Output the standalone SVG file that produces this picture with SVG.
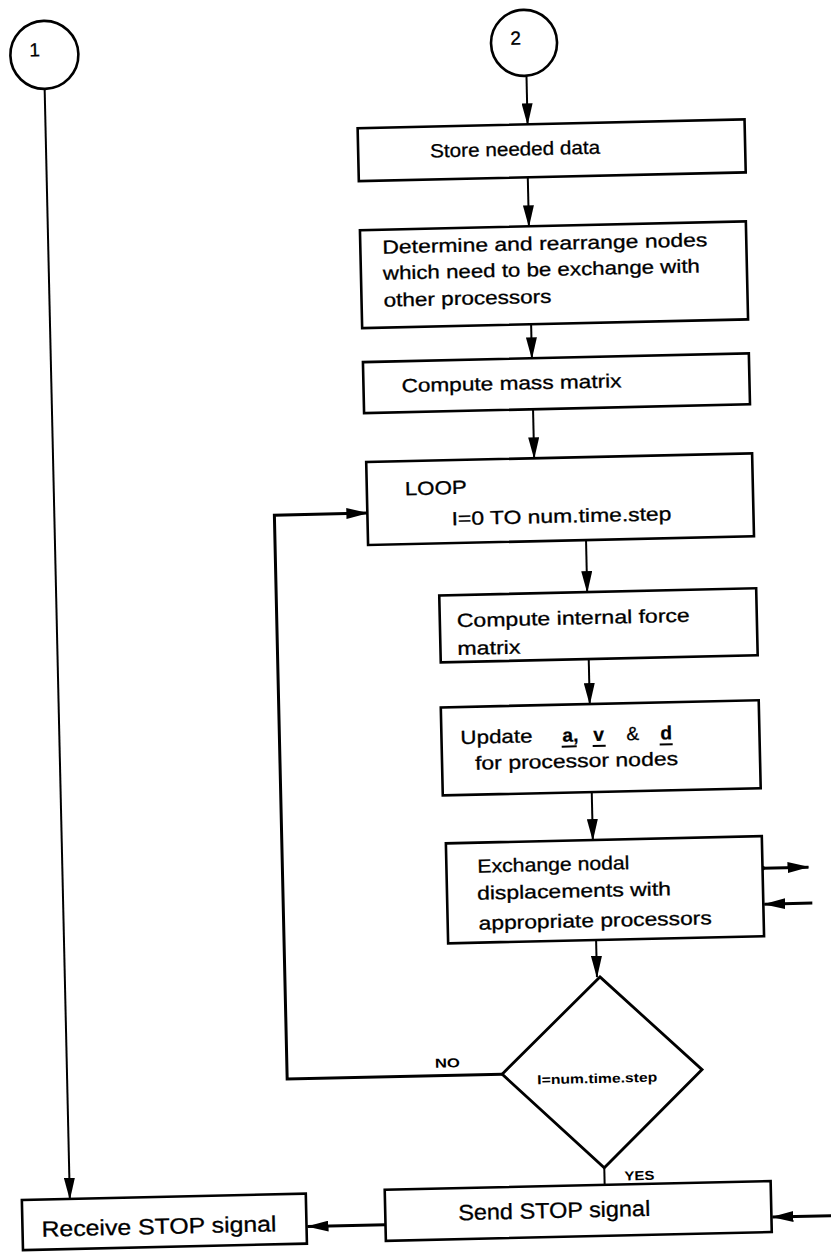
<svg xmlns="http://www.w3.org/2000/svg" width="831" height="1258" viewBox="0 0 831 1258">
<defs>
<style>
.box{fill:#fff;stroke:#000;stroke-width:2.6}
.t{font-family:"Liberation Sans",Arial,sans-serif;font-size:19px;fill:#000;stroke:#000;stroke-width:0.3}
.tb{font-family:"Liberation Sans",Arial,sans-serif;font-size:13px;font-weight:bold;fill:#000}
.tl{font-family:"Liberation Sans",Arial,sans-serif;font-size:22px;fill:#000;stroke:#000;stroke-width:0.3}
.ln{stroke:#000;stroke-width:2;fill:none}
.lk{stroke:#000;stroke-width:3;fill:none}
</style>
<marker id="ah" markerUnits="userSpaceOnUse" markerWidth="22" markerHeight="11" refX="21" refY="5.5" orient="auto">
<path d="M0,0 L22,5.5 L0,11 z" fill="#000"/>
</marker>
</defs>
<rect width="831" height="1258" fill="#fff"/>
<g transform="rotate(-1.3 415 629)">
<g id="connectors">
<line class="ln" x1="57" y1="81" x2="57" y2="1191" marker-end="url(#ah)"/>
<line class="ln" x1="539" y1="79" x2="539" y2="127" marker-end="url(#ah)"/>
<line class="ln" x1="538" y1="180" x2="538" y2="229" marker-end="url(#ah)"/>
<line class="ln" x1="538" y1="327" x2="538" y2="361" marker-end="url(#ah)"/>
<line class="ln" x1="538" y1="412" x2="538" y2="461" marker-end="url(#ah)"/>
<line class="ln" x1="588" y1="544" x2="588" y2="596" marker-end="url(#ah)"/>
<line class="ln" x1="588" y1="663" x2="588" y2="708" marker-end="url(#ah)"/>
<line class="ln" x1="588" y1="796" x2="588" y2="844" marker-end="url(#ah)"/>
<line class="ln" x1="589" y1="944" x2="589" y2="981" marker-end="url(#ah)"/>
<line class="ln" x1="592" y1="1172" x2="592" y2="1189"/>
<polyline class="lk" points="492,1076 277,1076 277,512 370,512" marker-end="url(#ah)"/>
<line class="lk" x1="757" y1="876" x2="803" y2="876" marker-end="url(#ah)"/>
<circle cx="757" cy="876" r="2.5" fill="#000"/>
<line class="lk" x1="806" y1="912" x2="758" y2="912" marker-end="url(#ah)"/>
<line class="lk" x1="850" y1="1225" x2="759" y2="1225" marker-end="url(#ah)"/>
<line class="lk" x1="372" y1="1224" x2="294" y2="1224" marker-end="url(#ah)"/>
<text class="tb" x="425" y="1068" textLength="25" lengthAdjust="spacingAndGlyphs">NO</text>
<text class="tb" x="612" y="1185" textLength="30" lengthAdjust="spacingAndGlyphs">YES</text>
</g>
<g id="c1">
<circle cx="57.5" cy="46.6" r="34" fill="#fff" stroke="#000" stroke-width="2.6"/>
<text class="t" x="48" y="48" font-size="20" text-anchor="middle">1</text>
</g>
<g id="c2">
<circle cx="537.3" cy="45.5" r="33" fill="#fff" stroke="#000" stroke-width="2.6"/>
<text class="t" x="529" y="47" font-size="20" text-anchor="middle">2</text>
</g>
<g id="n-store">
<rect class="box" x="369" y="127" width="387" height="53"/>
<text class="t" x="441" y="158" textLength="170" lengthAdjust="spacingAndGlyphs">Store needed data</text>
</g>
<g id="n-determine">
<rect class="box" x="369" y="229" width="386" height="98"/>
<text class="t" x="391" y="253" textLength="325" lengthAdjust="spacingAndGlyphs">Determine and rearrange nodes</text>
<text class="t" x="391" y="279" textLength="317" lengthAdjust="spacingAndGlyphs">which need to be exchange with</text>
<text class="t" x="391" y="306" textLength="168" lengthAdjust="spacingAndGlyphs">other processors</text>
</g>
<g id="n-mass">
<rect class="box" x="369" y="361" width="386" height="51"/>
<text class="t" x="407" y="392" textLength="220" lengthAdjust="spacingAndGlyphs">Compute mass matrix</text>
</g>
<g id="n-loop">
<rect class="box" x="370" y="461" width="386" height="83"/>
<text class="t" x="408" y="495" textLength="62" lengthAdjust="spacingAndGlyphs">LOOP</text>
<text class="t" x="454" y="526" textLength="220" lengthAdjust="spacingAndGlyphs">I=0 TO num.time.step</text>
</g>
<g id="n-force">
<rect class="box" x="440" y="596" width="317" height="67"/>
<text class="t" x="457" y="628" textLength="233" lengthAdjust="spacingAndGlyphs">Compute internal force</text>
<text class="t" x="457" y="656" textLength="63" lengthAdjust="spacingAndGlyphs">matrix</text>
</g>
<g id="n-update">
<rect class="box" x="439" y="708" width="318" height="88"/>
<text class="t" x="458" y="745" textLength="72" lengthAdjust="spacingAndGlyphs">Update</text>
<text class="t" x="560" y="745" font-weight="bold">a,</text>
<text class="t" x="591" y="745" font-weight="bold">v</text>
<text class="t" x="624" y="745">&amp;</text>
<text class="t" x="658" y="745" font-weight="bold">d</text>
<line class="ln" x1="559" y1="750" x2="574" y2="750"/>
<line class="ln" x1="590" y1="750" x2="603" y2="750"/>
<line class="ln" x1="657" y1="750" x2="670" y2="750"/>
<text class="t" x="472" y="771" textLength="203" lengthAdjust="spacingAndGlyphs">for processor nodes</text>
</g>
<g id="n-exchange">
<rect class="box" x="441" y="844" width="316" height="100"/>
<text class="t" x="472" y="874" textLength="152" lengthAdjust="spacingAndGlyphs">Exchange nodal</text>
<text class="t" x="471" y="901" textLength="194" lengthAdjust="spacingAndGlyphs">displacements with</text>
<text class="t" x="472" y="931" textLength="233" lengthAdjust="spacingAndGlyphs">appropriate processors</text>
</g>
<g id="n-decision">
<polygon points="592,981 692,1076 592,1172 492,1076" fill="#fff" stroke="#000" stroke-width="2.8"/>
<text class="tb" x="587" y="1087" text-anchor="middle" textLength="120" lengthAdjust="spacingAndGlyphs">I=num.time.step</text>
</g>
<g id="n-send">
<rect class="box" x="372" y="1189" width="386" height="51"/>
<text class="tl" x="445" y="1221" textLength="192" lengthAdjust="spacingAndGlyphs">Send  STOP signal</text>
</g>
<g id="n-receive">
<rect class="box" x="9" y="1191" width="284" height="50"/>
<text class="tl" x="28" y="1228" textLength="235" lengthAdjust="spacingAndGlyphs">Receive STOP signal</text>
</g>
</g>
</svg>
